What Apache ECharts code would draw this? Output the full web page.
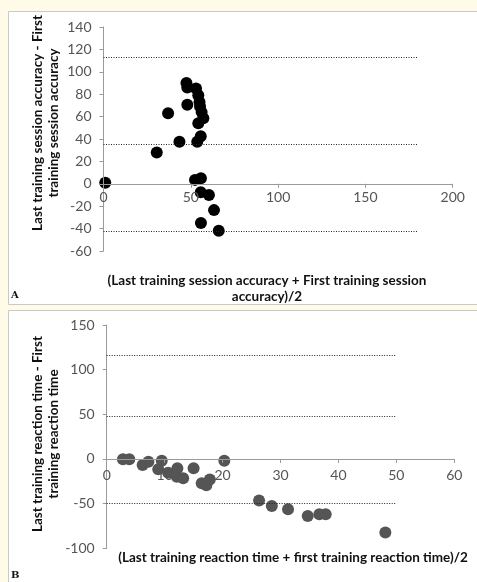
<!DOCTYPE html>
<html>
<head>
<meta charset="utf-8">
<script src="https://cdn.jsdelivr.net/npm/echarts@6/dist/echarts.min.js"></script>
<style>
  html, body { margin: 0; padding: 0; background: #fffbe8; }
  #main { width: 477px; height: 582px; }
</style>
</head>
<body>
<div id="main"></div>
<script>
// panel A: accuracy (mean of sessions vs difference)
var accMean = [1, 30.5, 37, 43.5, 47.5, 48, 48, 53, 54.3, 55, 55.3, 56.2, 57.2, 54.3, 53.7, 55.7, 52.4, 55.8, 55.7, 60.4, 63.3, 55.8, 66];
var accDiff = [1, 28, 63, 37.5, 90, 86, 70.5, 85, 79, 73, 69, 64, 58.5, 54, 37.5, 42.5, 3.5, 5, -7.5, -10, -23.5, -35, -42];
var accLimits = [113.3, 35.3, -42.8];
var accLimitEnd = 180;

// panel B: reaction time
var rtMean = [2.8, 3.9, 6.2, 7.2, 8.9, 9.5, 10.6, 12.2, 12.1, 13.2, 15, 16.4, 17.2, 17.8, 20.3, 26.3, 28.5, 31.3, 34.7, 36.7, 37.8, 48.1];
var rtDiff = [-0.3, -0.3, -6.7, -3, -11.5, -1.9, -15.3, -10.4, -19.8, -21.6, -10.4, -27.2, -29.5, -23, -1.9, -46.6, -52.6, -56.3, -63.8, -61.9, -61.9, -82.4];
var rtLimits = [116.3, 48.1, -49.4];
var rtLimitEnd = 50;

function zip(a, b) {
  var out = [];
  for (var i = 0; i < a.length; i++) out.push([a[i], b[i]]);
  return out;
}
function limitLines(vals, end) {
  return vals.map(function (v) { return [{ coord: [0, v] }, { coord: [end, v] }]; });
}

var gridA = { left: 103.5, top: 27, width: 349.2, height: 224 };
var gridB = { left: 106.7, top: 325, width: 347.6, height: 223.3 };
var yA = [-60, 140], yB = [-100, 150];
// x axis sits at y = 0 (onZero does not take here), so shift it up from the grid bottom
function zeroOffset(grid, ext) { return -(0 - ext[0]) / (ext[1] - ext[0]) * grid.height; }

var font = 'Lato, "Open Sans", sans-serif';
function mkAxis(grid, min, max, interval, margin, offset) {
  return {
    type: 'value', gridIndex: grid, min: min, max: max, interval: interval,
    offset: offset || 0,
    z: 3,
    splitLine: { show: false },
    axisLine: { show: true, onZero: false, lineStyle: { color: '#9a9a9a' } },
    axisTick: { show: true, length: 4, lineStyle: { color: '#9a9a9a' } },
    axisLabel: { color: '#555', fontSize: 14, fontFamily: font, margin: margin }
  };
}

var chart = echarts.init(document.getElementById('main'));
var titleStyle = { fill: '#111', fontSize: 13.5, fontWeight: 'bold', fontFamily: font, align: 'center', verticalAlign: 'middle', lineHeight: 16 };

chart.setOption({
  backgroundColor: '#fffbe8',
  animation: false,
  grid: [gridA, gridB],
  xAxis: [
    mkAxis(0, 0, 200, 50, 7, zeroOffset(gridA, yA)),
    mkAxis(1, 0, 60, 10, 10, zeroOffset(gridB, yB))
  ],
  yAxis: [
    mkAxis(0, yA[0], yA[1], 20, 12),
    mkAxis(1, yB[0], yB[1], 50, 12)
  ],
  graphic: [
    { type: 'rect', z: -10, shape: { x: 8.5, y: 11.5, width: 475, height: 293 }, style: { fill: '#fff', stroke: '#c9c9c9', lineWidth: 1 } },
    { type: 'rect', z: -10, shape: { x: 8.5, y: 310.5, width: 475, height: 280 }, style: { fill: '#fff', stroke: '#c9c9c9', lineWidth: 1 } },
    { type: 'text', z: 100, x: 46, y: 123, rotation: Math.PI / 2,
      style: echarts.util.extend({ text: 'Last training session accuracy - First\ntraining session accuracy' }, titleStyle) },
    { type: 'text', z: 100, x: 267, y: 289,
      style: echarts.util.extend({ text: '(Last training session accuracy + First training session\naccuracy)/2' }, titleStyle) },
    { type: 'text', z: 100, x: 46, y: 434, rotation: Math.PI / 2,
      style: echarts.util.extend({ text: 'Last training reaction time - First\ntraining reaction time' }, titleStyle) },
    { type: 'text', z: 100, x: 293, y: 558,
      style: echarts.util.extend({ text: '(Last training reaction time + first training reaction time)/2' }, titleStyle, { fontSize: 13.8 }) },
    { type: 'text', z: 100, x: 11, y: 290, style: { text: 'A', fill: '#111', fontSize: 10, fontWeight: 'bold', fontFamily: '"DejaVu Serif", serif' } },
    { type: 'text', z: 100, x: 11, y: 570, style: { text: 'B', fill: '#111', fontSize: 10, fontWeight: 'bold', fontFamily: '"DejaVu Serif", serif' } }
  ],
  series: [
    {
      type: 'scatter', xAxisIndex: 0, yAxisIndex: 0,
      symbolSize: 12, itemStyle: { color: '#000', opacity: 1 },
      data: zip(accMean, accDiff),
      markLine: {
        silent: true, symbol: 'none', label: { show: false },
        lineStyle: { color: '#222', type: [1, 1.5], width: 1 },
        data: limitLines(accLimits, accLimitEnd)
      }
    },
    {
      type: 'scatter', xAxisIndex: 1, yAxisIndex: 1,
      symbolSize: 12, itemStyle: { color: '#555', opacity: 1 },
      data: zip(rtMean, rtDiff),
      markLine: {
        silent: true, symbol: 'none', label: { show: false },
        lineStyle: { color: '#222', type: [1, 1.5], width: 1 },
        data: limitLines(rtLimits, rtLimitEnd)
      }
    }
  ]
});
</script>
</body>
</html>
